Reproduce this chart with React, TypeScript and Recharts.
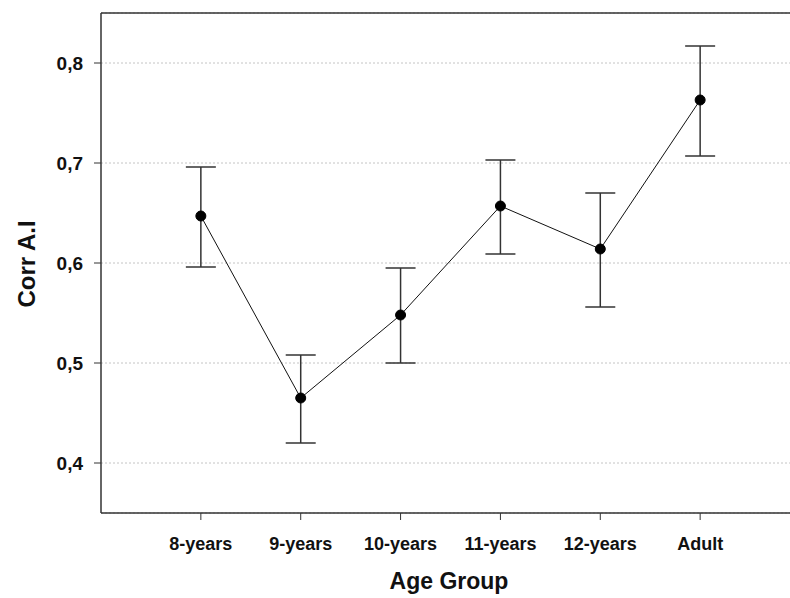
import {
  LineChart,
  Line,
  XAxis,
  YAxis,
  CartesianGrid,
  ErrorBar,
  ReferenceLine,
} from 'recharts';

// Grupos de edad y valores medios con sus intervalos
const categorias = ['8-years', '9-years', '10-years', '11-years', '12-years', 'Adult'];
const medias = [0.647, 0.465, 0.548, 0.657, 0.614, 0.763];
const inferiores = [0.596, 0.420, 0.500, 0.609, 0.556, 0.707];
const superiores = [0.696, 0.508, 0.595, 0.703, 0.670, 0.817];
const ticksY = [0.4, 0.5, 0.6, 0.7, 0.8];

const datos = categorias.map((nombre, i) => ({
  x: i + 1,
  nombre,
  valor: medias[i],
  error: [medias[i] - inferiores[i], superiores[i] - medias[i]],
}));

const FUENTE = '"Liberation Sans", Arial, sans-serif';
const EJE = '#333';

const EtiquetaY = () => (
  <text
    x={0}
    y={0}
    transform="translate(35, 264) rotate(-90)"
    textAnchor="middle"
    fontFamily={FUENTE}
    fontWeight="bold"
    fontSize={24}
    fill="#111"
  >
    Corr A.I
  </text>
);

const EtiquetaX = () => (
  <text
    x={449}
    y={589}
    textAnchor="middle"
    fontFamily={FUENTE}
    fontWeight="bold"
    fontSize={23}
    fill="#111"
  >
    Age Group
  </text>
);

export default function App() {
  return (
    <div
      style={{
        position: 'absolute',
        top: 0,
        left: 0,
        width: 790,
        height: 598,
        overflow: 'hidden',
        background: '#fff',
      }}
    >
      <LineChart
        width={800}
        height={598}
        data={datos}
        margin={{ top: 13, right: 0, left: 0, bottom: 0 }}
      >
        <CartesianGrid
          horizontal
          vertical={false}
          stroke="#c4c4c4"
          strokeDasharray="2 2"
        />
        <XAxis
          dataKey="x"
          type="number"
          domain={[0, 7]}
          ticks={[1, 2, 3, 4, 5, 6]}
          height={85}
          tickSize={7}
          tickMargin={17}
          tickFormatter={(v: number) => categorias[v - 1] ?? ''}
          axisLine={{ stroke: EJE, strokeWidth: 1.5 }}
          tickLine={{ stroke: EJE }}
          tick={{ fill: '#111', fontFamily: FUENTE, fontWeight: 'bold', fontSize: 18 }}
          label={<EtiquetaX />}
        />
        <YAxis
          width={101}
          domain={[0.35, 0.85]}
          ticks={ticksY}
          tickSize={7}
          tickMargin={11}
          tickFormatter={(v: number) => v.toFixed(1).replace('.', ',')}
          axisLine={{ stroke: EJE, strokeWidth: 1.5 }}
          tickLine={{ stroke: EJE }}
          tick={{ fill: '#111', fontFamily: FUENTE, fontWeight: 'bold', fontSize: 19 }}
          label={<EtiquetaY />}
        />
        <ReferenceLine y={0.85} stroke={EJE} strokeWidth={1.5} />
        <Line
          dataKey="valor"
          type="linear"
          stroke="#111"
          strokeWidth={1}
          dot={{ r: 5, fill: '#000', stroke: '#000', strokeWidth: 1 }}
          isAnimationActive={false}
        >
          <ErrorBar
            dataKey="error"
            direction="y"
            width={15}
            stroke={EJE}
            strokeWidth={1.5}
            isAnimationActive={false}
          />
        </Line>
      </LineChart>
    </div>
  );
}
